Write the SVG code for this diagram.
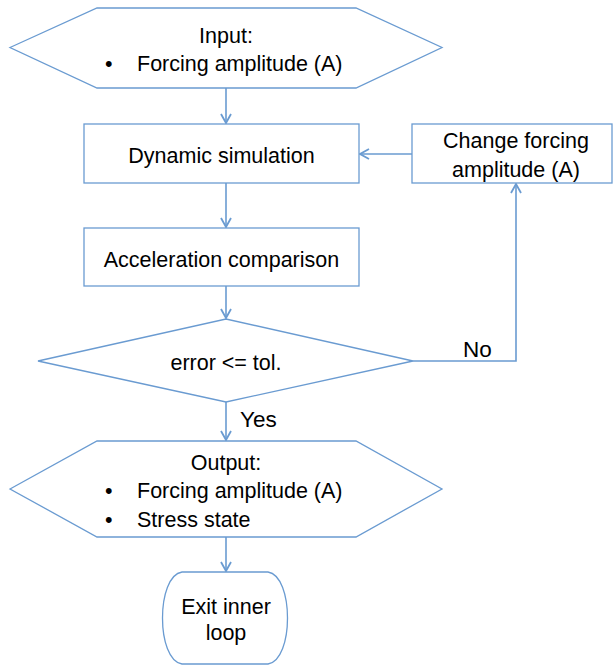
<svg xmlns="http://www.w3.org/2000/svg" width="613" height="666" viewBox="0 0 613 666">
<style>
.s{fill:#fff;stroke:#6a9bd1;stroke-width:1.3}
.t{font-family:"Liberation Sans",Arial,sans-serif;font-size:21.5px;fill:#000}
.a{font-family:"Liberation Sans",Arial,sans-serif;font-size:22.5px;fill:#000}
.c{fill:none;stroke:#6a9bd1;stroke-width:1.6}
</style>
<defs>
<marker id="ah" viewBox="0 0 12 12" refX="11" refY="6" markerWidth="12" markerHeight="12" markerUnits="userSpaceOnUse" orient="auto">
<path d="M2,1 L11,6 L2,11" fill="none" stroke="#6a9bd1" stroke-width="1.8"/>
</marker>
</defs>
<g id="connectors">
<line class="c" x1="226" y1="88" x2="226" y2="123" marker-end="url(#ah)"/>
<line class="c" x1="226" y1="183" x2="226" y2="227" marker-end="url(#ah)"/>
<line class="c" x1="226" y1="286" x2="226" y2="318" marker-end="url(#ah)"/>
<line class="c" x1="226" y1="402" x2="226" y2="440" marker-end="url(#ah)"/>
<line class="c" x1="226" y1="537" x2="226" y2="571" marker-end="url(#ah)"/>
<polyline class="c" points="413,361 516,361 516,184" marker-end="url(#ah)"/>
<line class="c" x1="412" y1="154" x2="360" y2="154" marker-end="url(#ah)"/>
<text class="a" x="463" y="357">No</text>
<text class="a" x="240" y="427">Yes</text>
</g>
<g id="input">
<polygon class="s" points="10,47.5 97,8 356,8 442,47.5 356,88 97,88"/>
<text class="t" x="226" y="43" text-anchor="middle">Input:</text>
<text class="t" x="105" y="71">•</text>
<text class="t" x="137" y="71">Forcing amplitude (A)</text>
</g>
<g id="dynamic">
<rect class="s" x="84" y="124" width="275" height="59"/>
<text class="t" x="221.5" y="163" text-anchor="middle">Dynamic simulation</text>
</g>
<g id="change">
<rect class="s" x="412" y="124" width="200" height="59"/>
<text class="t" x="516" y="148" text-anchor="middle">Change forcing</text>
<text class="t" x="516" y="177" text-anchor="middle">amplitude (A)</text>
</g>
<g id="accel">
<rect class="s" x="84" y="228" width="275" height="58"/>
<text class="t" x="221.5" y="267" text-anchor="middle">Acceleration comparison</text>
</g>
<g id="decision">
<polygon class="s" points="38,361 226,319 413,361 226,402"/>
<text class="a" x="226" y="370" text-anchor="middle" style="font-size:21.5px">error &lt;= tol.</text>
</g>
<g id="output">
<polygon class="s" points="10,489 97,441 356,441 442,489 356,537 97,537"/>
<text class="t" x="226" y="470" text-anchor="middle">Output:</text>
<text class="t" x="105" y="498">•</text>
<text class="t" x="137" y="498">Forcing amplitude (A)</text>
<text class="t" x="105" y="527">•</text>
<text class="t" x="137" y="527">Stress state</text>
</g>
<g id="exit">
<path class="s" d="M182,572 L268,572 C294,576 294,660 268,664 L182,664 C156,660 156,576 182,572 Z"/>
<text class="t" x="226" y="614" text-anchor="middle">Exit inner</text>
<text class="t" x="226" y="640" text-anchor="middle">loop</text>
</g>
</svg>
